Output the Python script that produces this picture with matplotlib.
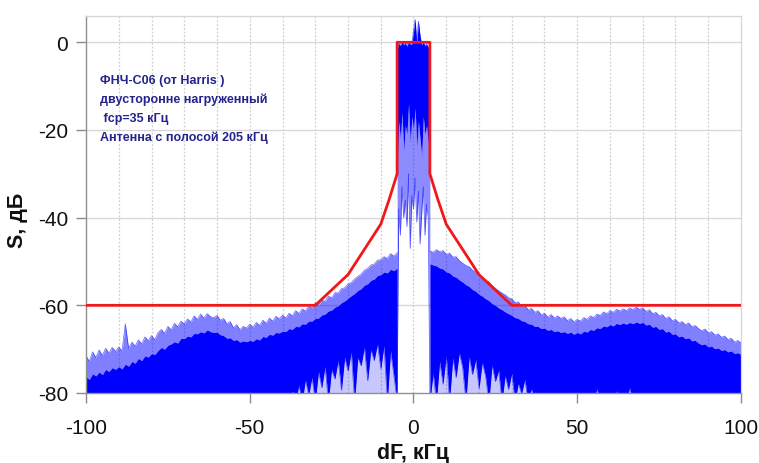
import numpy as np
import matplotlib
matplotlib.use("Agg")
import matplotlib.pyplot as plt
from matplotlib import font_manager

# ---------------- data ----------------
# red mask, kHz / dB
mask_f = [-100, -30, -20, -10, -7.5, -5, -5, 5, 5, 7.5, 10, 20, 30, 100]
mask_db = [-60, -60, -53, -41.5, -36, -30, 0, 0, -30, -36, -41.5, -53, -60, -60]

# left side lobe, 1 kHz steps from -100 to -5
left_f = list(range(-100, -4))
left_upper = [
    -71.5, -72.8, -70.6, -71.9, -70.2, -71.4, -69.8, -70.9, -69.6, -70.5,
    -69.5, -70.4, -64.2, -69.8, -68.4, -69.3, -67.9, -68.8, -67.2, -68.1,
    -66.9, -67.8, -66.2, -65.5, -66.4, -64.8, -65.6, -64.1, -64.9, -63.6,
    -64.2, -63.1, -63.8, -62.4, -63.2, -62.0, -62.9, -61.9, -62.6, -62.8,
    -62.3, -63.4, -63.0, -64.2, -63.7, -65.1, -64.4, -65.6, -64.8, -65.2,
    -64.3, -65.0, -63.9, -64.6, -63.4, -64.1, -62.9, -63.6, -62.5, -63.1,
    -62.2, -62.9, -61.8, -62.4, -61.2, -61.9, -60.8, -61.3, -60.2, -60.6,
    -59.4, -59.9, -58.8, -59.1, -57.9, -58.3, -57.1, -57.2, -56.2, -56.0,
    -55.1, -54.8, -54.0, -53.4, -52.9, -52.0, -51.6, -50.8, -50.6, -49.7,
    -49.6, -48.9, -49.3, -48.2, -48.8, -48.0]
left_solid = [
    -76.3, -76.9, -75.6, -76.1, -75.2, -75.8, -74.6, -75.1, -74.2, -74.6,
    -74.0, -74.5, -73.4, -73.9, -72.8, -73.2, -72.1, -72.6, -71.5, -71.8,
    -71.0, -71.2, -70.3, -69.6, -70.0, -69.1, -68.8, -68.3, -68.6, -67.5,
    -67.6, -67.0, -67.2, -66.4, -66.5, -66.0, -66.3, -65.6, -66.0, -66.2,
    -66.1, -66.7, -66.9, -67.5, -67.4, -68.0, -67.8, -68.4, -68.1, -68.3,
    -68.0, -68.2, -67.6, -67.9, -67.1, -67.3, -66.6, -66.8, -66.2, -66.3,
    -65.9, -66.0, -65.3, -65.5, -64.8, -64.9, -64.2, -64.3, -63.6, -63.6,
    -63.0, -62.9, -62.2, -62.0, -61.3, -61.1, -60.4, -60.1, -59.4, -59.0,
    -58.4, -57.8, -57.3, -56.6, -56.2, -55.4, -55.1, -54.3, -54.0, -53.2,
    -53.0, -52.4, -52.6, -51.8, -52.1, -51.5]
left_lower = [-82.0] * 60 + [
    -82.0, -82.0, -82.0, -79.5, -82.0, -78.2, -82.0, -77.0, -80.5, -76.4,
    -82.0, -75.1, -78.8, -73.9, -82.0, -74.6, -76.8, -72.5, -79.4, -71.8,
    -75.0, -70.6, -82.0, -71.9, -73.8, -69.5, -77.2, -70.1, -72.6, -68.8,
    -74.5, -69.2, -82.0, -70.4, -76.0, -82.0]

# right side lobe, 1 kHz steps from 5 to 100
right_f = list(range(5, 101))
right_upper = [
    -47.6, -47.9, -47.3, -47.8, -47.5, -48.4, -48.1, -49.0, -48.9, -49.8,
    -50.4, -50.9, -51.2, -52.0, -52.3, -53.2, -53.6, -54.3, -54.6, -55.5,
    -56.1, -56.7, -57.2, -57.6, -58.3, -58.5, -59.4, -59.2, -60.3, -60.0,
    -61.0, -60.7, -61.6, -61.2, -62.2, -61.8, -62.7, -62.1, -62.9, -62.4,
    -63.0, -62.6, -63.5, -63.0, -63.8, -63.2, -63.6, -62.8, -63.2, -62.4,
    -62.8, -62.0, -62.3, -61.5, -61.9, -61.2, -61.6, -60.9, -61.3, -60.8,
    -61.2, -60.6, -61.0, -60.4, -60.9, -60.6, -61.4, -61.0, -61.9, -61.6,
    -62.4, -62.1, -63.0, -62.6, -63.5, -63.2, -64.0, -63.7, -64.4, -64.0,
    -64.9, -64.6, -65.3, -65.8, -65.4, -66.3, -66.0, -66.8, -66.5, -67.3,
    -67.0, -67.8, -67.5, -68.4, -68.0, -68.6]
right_solid = [
    -50.5, -50.8, -51.0, -51.5, -51.7, -52.4, -52.6, -53.3, -53.6, -54.2,
    -54.7, -55.3, -55.7, -56.4, -56.8, -57.5, -57.9, -58.5, -58.9, -59.6,
    -60.0, -60.6, -61.0, -61.5, -61.9, -62.3, -62.8, -63.0, -63.5, -63.7,
    -64.2, -64.3, -64.8, -64.8, -65.3, -65.2, -65.7, -65.5, -66.0, -65.8,
    -66.2, -66.0, -66.4, -66.1, -66.6, -66.2, -66.5, -65.9, -66.1, -65.5,
    -65.7, -65.1, -65.3, -64.7, -64.9, -64.4, -64.7, -64.1, -64.4, -64.0,
    -64.3, -63.9, -64.2, -63.8, -64.1, -63.9, -64.5, -64.3, -65.0, -64.8,
    -65.5, -65.3, -66.1, -65.9, -66.6, -66.5, -67.2, -67.0, -67.6, -67.4,
    -68.1, -68.0, -68.6, -69.0, -68.8, -69.5, -69.3, -69.9, -69.7, -70.3,
    -70.1, -70.6, -70.4, -71.0, -70.8, -71.2]
right_lower = [
    -82.0, -75.5, -82.0, -72.8, -78.0, -71.5, -82.0, -72.0, -76.5, -70.8,
    -74.2, -82.0, -71.6, -75.8, -72.4, -79.0, -73.0, -76.2, -82.0, -73.6,
    -77.4, -74.8, -82.0, -76.0, -79.2, -75.5, -82.0, -77.8, -80.2, -76.9,
    -82.0, -79.0, -82.0, -82.0, -80.5, -82.0, -82.0, -82.0, -82.0, -82.0,
    -82.0, -82.0, -82.0, -79.8, -82.0, -82.0, -82.0, -82.0, -82.0, -82.0,
    -82.0, -79.0, -82.0, -82.0, -82.0, -82.0, -82.0, -79.5, -82.0, -82.0,
    -82.0, -78.8, -82.0, -82.0, -82.0, -82.0, -82.0, -82.0, -82.0, -82.0,
    -82.0, -82.0, -82.0, -82.0, -82.0, -82.0, -82.0, -82.0, -82.0, -82.0,
    -82.0, -82.0, -82.0, -82.0, -82.0, -82.0, -82.0, -82.0, -82.0, -82.0,
    -82.0, -82.0, -82.0, -82.0, -82.0, -82.0]

# central pass band, 0.5 kHz steps from -5 to 5
center_f = [-5, -4.5, -4, -3.5, -3, -2.5, -2, -1.5, -1, -0.5, 0,
            0.5, 1, 1.5, 2, 2.5, 3, 3.5, 4, 4.5, 5]
center_upper = [-1.5, -0.3, -0.8, 0.2, -0.6, -0.2, -0.9, 0.1, -0.5, -0.4, 2.5,
                5.2, -0.3, 4.8, 1.5, -0.6, 0.0, -0.8, -0.4, -1.2, -1.0]
center_dense = [-30, -18, -22, -16, -25, -19, -21, -14, -23, -17, -20,
                -15, -24, -18, -22, -26, -17, -21, -19, -23, -30]
center_lower = [-80, -38, -44, -33, -40, -36, -42, -30, -47, -35, -38,
                -31, -41, -34, -46, -39, -33, -44, -37, -40, -80]

x_ticks = [-100, -50, 0, 50, 100]
y_ticks = [0, -20, -40, -60, -80]
note_lines = ["ФНЧ-С06 (от Harris )",
              "двусторонне нагруженный",
              " fср=35 кГц",
              "Антенна с полосой 205 кГц"]

# ---------------- figure ----------------
plt.rcParams['font.family'] = ['Liberation Sans', 'DejaVu Sans']
fig = plt.figure(figsize=(7.59, 4.64), dpi=100)
ax = fig.add_axes([86 / 759, 1 - 394 / 464, (741 - 86) / 759, (394 - 17) / 464])

BLUE = '#0000ff'
for f, lo, so, up in [(left_f, left_lower, left_solid, left_upper),
                      (right_f, right_lower, right_solid, right_upper)]:
    ax.fill_between(f, -82, lo, color=BLUE, alpha=0.22, lw=0, zorder=2)
    ax.fill_between(f, lo, so, color=BLUE, lw=0, zorder=2)
    ax.fill_between(f, so, up, color=BLUE, alpha=0.5, lw=0, zorder=2)
    ax.plot(f, up, color=BLUE, lw=0.5, alpha=0.6, zorder=2)
    ax.plot(f, lo, color=BLUE, lw=0.5, alpha=0.6, zorder=2)

ax.fill_between(center_f, center_lower, center_dense, color=BLUE, alpha=0.45, lw=0, zorder=2)
ax.fill_between(center_f, center_dense, center_upper, color=BLUE, lw=0, zorder=2)
ax.plot(center_f, center_upper, color=BLUE, lw=0.6, alpha=0.6, zorder=2)
ax.plot(center_f, center_lower, color=BLUE, lw=0.6, alpha=0.6, zorder=2)

ax.plot(mask_f, mask_db, color='#f01818', lw=2.0, zorder=4)

ax.set_xlim(-100, 100)
ax.set_ylim(-80, 6)

# grid
for v in range(-90, 100, 10):
    ax.axvline(v, color='#cfcfcf', lw=0.9, ls=(0, (1.5, 1.5)), zorder=1)
for h in [-60, -40, -20, 0]:
    ax.axhline(h, color='#d6d6d6', lw=0.9, zorder=1)

ax.set_xticks(x_ticks)
ax.set_yticks(y_ticks)
ax.set_xticklabels([str(t) for t in x_ticks])
ax.set_yticklabels([str(t) for t in y_ticks])
ax.tick_params(axis='both', labelsize=15, colors='#8a8a8a', labelcolor='#111111')
ax.tick_params(axis='y', length=7, width=1, pad=6)
ax.tick_params(axis='x', length=7, width=1, pad=11)

for s in ['left', 'bottom']:
    ax.spines[s].set_color('#8f8f8f')
    ax.spines[s].set_linewidth(1.0)
for s in ['top', 'right']:
    ax.spines[s].set_color('#d6d6d6')
    ax.spines[s].set_linewidth(0.9)

# labels
fig.text(413 / 759, 1 - 454 / 464, "dF, кГц", fontsize=15.5, fontweight='bold',
         ha='center', va='center', color='#111111')
fig.text(18 / 759, 1 - 220 / 464, "S, дБ", fontsize=15.5, fontweight='bold',
         rotation=90, ha='center', va='center', color='#111111')

installed = {f.name for f in font_manager.fontManager.ttflist}
note_family = ['Liberation Sans Narrow', 'Liberation Sans'] if 'Liberation Sans Narrow' in installed \
    else ['Liberation Sans', 'DejaVu Sans']
note_size = 10.5 if 'Liberation Sans Narrow' in installed else 9.0
for i, line in enumerate(note_lines):
    ax.text(-95.8, -8.6 - i * 4.35, line, fontsize=note_size, fontweight='bold',
            color='#24248c', ha='left', va='center',
            family=note_family, zorder=5)

fig.savefig('out.png', dpi=100)
